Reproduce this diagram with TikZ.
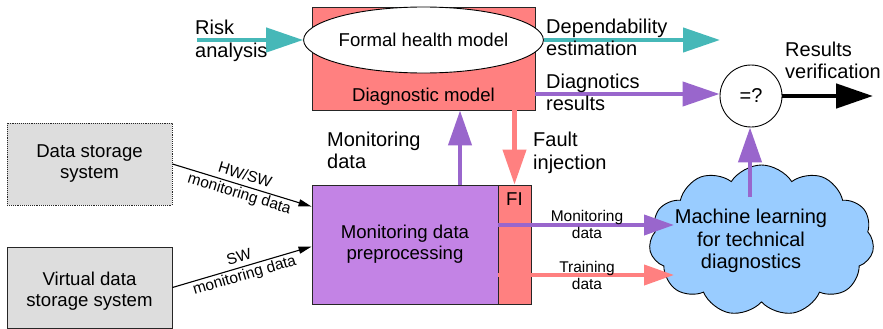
\documentclass[tikz,border=0pt]{standalone}
\usepackage{fontspec}
\setmainfont{Liberation Sans}
\usetikzlibrary{arrows.meta,shapes.geometric,shapes.symbols,calc}
\definecolor{salmon}{HTML}{FF8080}
\definecolor{teal}{HTML}{46B8B8}
\definecolor{purpleline}{HTML}{9966CC}
\definecolor{purplefill}{HTML}{C383E5}
\definecolor{cloudblue}{HTML}{99CCFF}
\definecolor{boxgray}{HTML}{DDDDDD}
\begin{document}
\begin{tikzpicture}[x=1pt,y=-1pt,
  bigfont/.style={font=\fontsize{20}{22.5}\selectfont},
  boxfont/.style={font=\fontsize{18.6}{21}\selectfont},
  smallfont/.style={font=\fontsize{15.5}{17}\selectfont},
  rotfont/.style={font=\fontsize{15.5}{19}\selectfont},
  lbl/.style={bigfont,align=left,inner sep=0pt,anchor=west},
  smalllbl/.style={smallfont,align=center,inner sep=0pt},
  rotlbl/.style={rotfont,align=center,inner sep=0pt},
  boxnode/.style={draw=black!85,line width=0.9pt,rectangle,inner sep=0pt,boxfont,align=center},
  fatarrow/.style={line width=4.3pt,-{Triangle[length=37pt,width=24pt]}},
  midarrow/.style={line width=4pt,-{Triangle[length=30pt,width=20pt]}},
  vertarrow/.style={line width=4.3pt,-{Triangle[length=35pt,width=23pt]}},
  thinarrow/.style={line width=1.1pt,-{Triangle[length=13pt,width=7pt]}}
]
\useasboundingbox (0,0) rectangle (883,329);

% Diagnostic model
\node[boxnode,fill=salmon,minimum width=223pt,minimum height=103pt] (dm) at (423.5,58.5) {};
\node[ellipse,draw=black,line width=0.9pt,fill=white,minimum width=223pt,minimum height=66pt,inner sep=0pt,boxfont] (fhm) at (423.5,40) {Formal health model};
\node[boxfont,inner sep=0pt] (dmlabel) at (423.5,96.9) {Diagnostic model};

% Preprocessing and FI
\node[boxnode,fill=purplefill,minimum width=186pt,minimum height=119pt] (pre) at (405,244.5) {Monitoring data\\preprocessing};
\node[boxnode,fill=salmon,minimum width=33pt,minimum height=119pt] (fi) at (514.5,244.5) {};
\node[boxfont,inner sep=0pt] (filabel) at (514.5,199.4) {FI};

% Storage systems
\node[boxnode,fill=boxgray,densely dotted,minimum width=165pt,minimum height=82pt] (ds) at (89.5,164) {Data storage\\system};
\node[boxnode,fill=boxgray,minimum width=165pt,minimum height=81pt] (vds) at (89.5,287.5) {};
\node[boxfont,align=center,inner sep=0pt] (vdslabel) at (89.5,290.7) {Virtual data\\storage system};

% Comparison circle
\node[circle,draw=black,line width=0.9pt,fill=white,minimum size=62pt,inner sep=0pt,bigfont] (cmp) at (751,96) {=?};

% Cloud
\node[cloud,draw=black,line width=0.9pt,fill=cloudblue,cloud puffs=11,cloud puff arc=115,aspect=1.5,minimum width=225pt,minimum height=151pt,inner sep=0pt] (ml) at (761.5,240.5) {};
\node[bigfont,align=center,inner sep=0pt] (mltext) at (751,241) {Machine learning\\for technical\\diagnostics};

% Coordinates
\coordinate (riskstart) at (197,40);
\coordinate (depend) at (720,40);
\coordinate (diagstart) at (535,94);
\coordinate (resend) at (873,96);
\coordinate (mup) at (460,185);
\coordinate (mlup) at (750,197);
\coordinate (mdstart) at (498,225);
\coordinate (mdend) at (674,225);
\coordinate (trstart) at (498,275);
\coordinate (trend) at (674,275);

% Arrows
\draw[fatarrow,teal] (riskstart) -- (fhm.west);
\draw[fatarrow,teal] (fhm.east) -- (depend);
\draw[fatarrow,purpleline] (diagstart) -- (diagstart -| cmp.west);
\draw[fatarrow,black,line width=4.7pt] (cmp.east) -- (resend);
\draw[vertarrow,purpleline] (mlup) -- (mlup |- cmp.south);
\draw[vertarrow,purpleline] (mup) -- (mup |- dm.south);
\draw[vertarrow,salmon] (dm.south -| fi.north) -- (fi.north);
\draw[midarrow,purpleline] (mdstart) -- (mdend);
\draw[midarrow,salmon] (trstart) -- (trend);

\draw[thinarrow] (ds.east) -- ($(pre.north west)+(0,22)$)
  node[midway,sloped,rotlbl] (hwlbl) {HW/SW\\monitoring data};
\draw[thinarrow] (vds.east) -- ($(pre.north west)+(0,62)$)
  node[midway,sloped,rotlbl] (swlbl) {SW\\monitoring data};

% Labels
\node[lbl] (risklbl) at (195,41) {Risk\\analysis};
\node[lbl] (deplbl) at (546,37.3) {Dependability\\estimation};
\node[lbl] (diaglbl) at (546,92.3) {Diagnotics\\results};
\node[lbl] (reslbl) at (785,60.6) {Results\\verification};
\node[lbl] (monlbl) at (327,150.6) {Monitoring\\data};
\node[lbl] (fltlbl) at (533,152.7) {Fault\\injection};
\node[smalllbl] (mdlbl) at (587,224.9) {Monitoring\\data};
\node[smalllbl] (trlbl) at (587,275.9) {Training\\data};
\end{tikzpicture}
\end{document}
